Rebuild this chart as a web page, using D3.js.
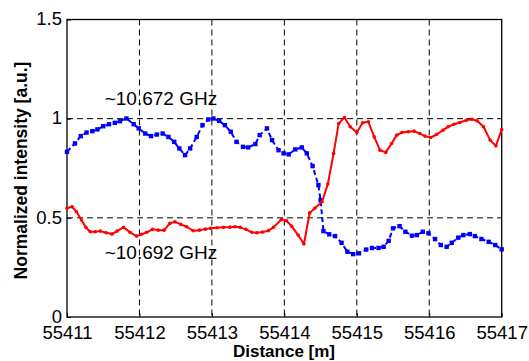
<!DOCTYPE html>
<html>
<head>
<meta charset="utf-8">
<script src="https://cdn.jsdelivr.net/npm/d3@7"></script>
<style>
	body { margin: 0; background: #fff; }
	svg { display: block; font-family: "Liberation Sans", Arial, sans-serif; }
</style>
</head>
<body>
<div id="chart"></div>
<script>
/*globals d3 */
// ~10.672 GHz (blue, dashed) and ~10.692 GHz (red) traces
var xTicks = [55411, 55412, 55413, 55414, 55415, 55416, 55417];
var yTicks = [0, 0.5, 1, 1.5];
var yTickLabels = ["0", "0.5", "1", "1.5"];

var blueDist = [55411.00, 55411.11, 55411.19, 55411.27, 55411.35, 55411.42, 55411.50, 55411.58, 55411.66, 55411.73,
	55411.82, 55411.92, 55411.99, 55412.08, 55412.16, 55412.24, 55412.32, 55412.40, 55412.48, 55412.55,
	55412.63, 55412.70, 55412.79, 55412.87, 55412.95, 55413.02, 55413.10, 55413.18, 55413.26, 55413.34,
	55413.43, 55413.50, 55413.60, 55413.66, 55413.76, 55413.83, 55413.92, 55413.99, 55414.06, 55414.15,
	55414.24, 55414.31, 55414.39, 55414.47, 55414.50, 55414.54, 55414.62, 55414.70, 55414.79, 55414.87,
	55414.95, 55415.03, 55415.13, 55415.21, 55415.30, 55415.37, 55415.44, 55415.50, 55415.59, 55415.67,
	55415.76, 55415.83, 55415.91, 55415.99, 55416.08, 55416.16, 55416.24, 55416.31, 55416.40, 55416.47,
	55416.56, 55416.63, 55416.72, 55416.82, 55416.91, 55417.00];
var blueVal = [0.833, 0.875, 0.912, 0.930, 0.937, 0.946, 0.962, 0.972, 0.979, 0.987,
	1.001, 0.972, 0.951, 0.925, 0.912, 0.920, 0.925, 0.908, 0.883, 0.850,
	0.816, 0.850, 0.908, 0.967, 0.996, 1.001, 0.989, 0.967, 0.934, 0.883,
	0.858, 0.855, 0.872, 0.917, 0.951, 0.892, 0.841, 0.825, 0.820, 0.845,
	0.855, 0.825, 0.761, 0.665, 0.589, 0.433, 0.417, 0.408, 0.374, 0.329,
	0.317, 0.321, 0.340, 0.348, 0.348, 0.354, 0.384, 0.447, 0.458, 0.430,
	0.410, 0.413, 0.430, 0.422, 0.393, 0.363, 0.354, 0.374, 0.400, 0.413,
	0.418, 0.408, 0.393, 0.379, 0.363, 0.341];

var redDist = [55411.00, 55411.07, 55411.13, 55411.20, 55411.26, 55411.32, 55411.39, 55411.46, 55411.54, 55411.62,
	55411.69, 55411.78, 55411.87, 55411.96, 55412.03, 55412.10, 55412.18, 55412.26, 55412.34, 55412.42,
	55412.49, 55412.57, 55412.65, 55412.74, 55412.83, 55412.91, 55412.98, 55413.07, 55413.16, 55413.25,
	55413.32, 55413.39, 55413.47, 55413.55, 55413.62, 55413.70, 55413.78, 55413.85, 55413.96, 55414.03,
	55414.10, 55414.19, 55414.27, 55414.35, 55414.42, 55414.52, 55414.60, 55414.68, 55414.75, 55414.83,
	55414.91, 55415.00, 55415.08, 55415.16, 55415.24, 55415.32, 55415.40, 55415.48, 55415.55, 55415.62,
	55415.71, 55415.79, 55415.87, 55415.94, 55416.02, 55416.10, 55416.19, 55416.26, 55416.34, 55416.42,
	55416.51, 55416.59, 55416.66, 55416.75, 55416.84, 55416.92, 55417.00];
var redVal = [0.548, 0.556, 0.531, 0.489, 0.452, 0.430, 0.430, 0.433, 0.425, 0.418,
	0.433, 0.452, 0.427, 0.408, 0.417, 0.427, 0.442, 0.438, 0.438, 0.472,
	0.480, 0.467, 0.455, 0.435, 0.438, 0.443, 0.447, 0.450, 0.452, 0.453,
	0.455, 0.452, 0.442, 0.427, 0.425, 0.428, 0.435, 0.452, 0.492, 0.485,
	0.458, 0.413, 0.368, 0.525, 0.548, 0.581, 0.670, 0.825, 0.976, 1.006,
	0.959, 0.930, 0.979, 0.984, 0.908, 0.841, 0.830, 0.875, 0.917, 0.930,
	0.934, 0.937, 0.925, 0.912, 0.905, 0.920, 0.942, 0.959, 0.972, 0.981,
	0.992, 0.997, 0.989, 0.959, 0.892, 0.863, 0.945];

var labelText = ["~10.672 GHz", "~10.692 GHz"];
var labelPos = [[55411.52, 1.068], [55411.52, 0.292]];

(function() {
	"use strict";
	var W = 529, H = 361,
	margin = {top: 19.5, right: 27.3, bottom: 44, left: 67},
	w = W - margin.left - margin.right,
	h = H - margin.top - margin.bottom;

	var x = d3.scaleLinear().domain([55411, 55417]).range([0, w]);
	var y = d3.scaleLinear().domain([0, 1.5]).range([h, 0]);

	var svg = d3.select("#chart").append("svg")
	.attr("width", W)
	.attr("height", H);
	var g = svg.append("g")
	.attr("transform", "translate(" + margin.left + "," + margin.top + ")");

	// dashed grid
	g.selectAll("line.gx").data(xTicks.slice(1, -1)).enter().append("line")
	.attr("class", "gx")
	.attr("x1", function(d) { return x(d); })
	.attr("x2", function(d) { return x(d); })
	.attr("y1", 0).attr("y2", h)
	.attr("stroke", "#000").attr("stroke-width", 1)
	.attr("stroke-dasharray", "6,4");
	g.selectAll("line.gy").data(yTicks.slice(1, -1)).enter().append("line")
	.attr("class", "gy")
	.attr("y1", function(d) { return y(d); })
	.attr("y2", function(d) { return y(d); })
	.attr("x1", 0).attr("x2", w)
	.attr("stroke", "#000").attr("stroke-width", 1)
	.attr("stroke-dasharray", "6,4");

	// axes
	var xAxis = d3.axisBottom(x).tickValues(xTicks).tickFormat(d3.format("d"))
	.tickSizeInner(-4).tickSizeOuter(0);
	var yAxis = d3.axisLeft(y).tickValues(yTicks)
	.tickFormat(function(d, i) { return yTickLabels[i]; })
	.tickSizeInner(-4).tickSizeOuter(0).tickPadding(5);

	var gx = g.append("g").attr("transform", "translate(0," + h + ")").call(xAxis);
	var gy = g.append("g").call(yAxis);
	[gx, gy].forEach(function(a) {
		a.select(".domain").remove();
		a.selectAll("line").attr("stroke", "#000");
		a.selectAll("text").attr("fill", "#000")
		.style("font-size", "18.5px").style("font-family", "\"Liberation Sans\", Arial, sans-serif");
	});
	gx.selectAll("text").attr("y", 22).attr("dy", 0);
	gy.selectAll("text").attr("dy", "0.28em");

	g.append("rect")
	.attr("width", w).attr("height", h)
	.attr("fill", "none").attr("stroke", "#000").attr("stroke-width", 1.3);

	var line = d3.line()
	.x(function(d) { return x(d[0]); })
	.y(function(d) { return y(d[1]); });

	var blue = d3.zip(blueDist, blueVal),
	red = d3.zip(redDist, redVal);

	var plot = g.append("g");

	plot.append("path").datum(blue)
	.attr("d", line)
	.attr("fill", "none")
	.attr("stroke", "#0000ff").attr("stroke-width", 2)
	.attr("stroke-dasharray", "5,3");
	plot.selectAll("rect.bm").data(blue).enter().append("rect")
	.attr("class", "bm")
	.attr("x", function(d) { return x(d[0]) - 2.2; })
	.attr("y", function(d) { return y(d[1]) - 2.2; })
	.attr("width", 4.4).attr("height", 4.4)
	.attr("fill", "#0000ff");

	plot.append("path").datum(red)
	.attr("d", line)
	.attr("fill", "none")
	.attr("stroke", "#ff0000").attr("stroke-width", 2)
	.attr("stroke-linejoin", "round");
	plot.selectAll("circle.rm").data(red).enter().append("circle")
	.attr("class", "rm")
	.attr("cx", function(d) { return x(d[0]); })
	.attr("cy", function(d) { return y(d[1]); })
	.attr("r", 1.8)
	.attr("fill", "#ff0000");

	// frequency labels
	g.selectAll("text.lbl").data(labelText).enter().append("text")
	.attr("class", "lbl")
	.attr("x", function(d, i) { return x(labelPos[i][0]); })
	.attr("y", function(d, i) { return y(labelPos[i][1]); })
	.attr("fill", "#000")
	.style("font-size", "19px")
	.text(function(d) { return d; });

	// axis titles
	svg.append("text")
	.attr("x", 284).attr("y", 357)
	.attr("text-anchor", "middle")
	.style("font-size", "17px").style("font-weight", "bold")
	.text("Distance [m]");
	svg.append("text")
	.attr("transform", "translate(27,170.5) rotate(-90)")
	.attr("text-anchor", "middle")
	.style("font-size", "17.5px").style("font-weight", "bold")
	.text("Normalized intensity [a.u.]");
}());
</script>
</body>
</html>
